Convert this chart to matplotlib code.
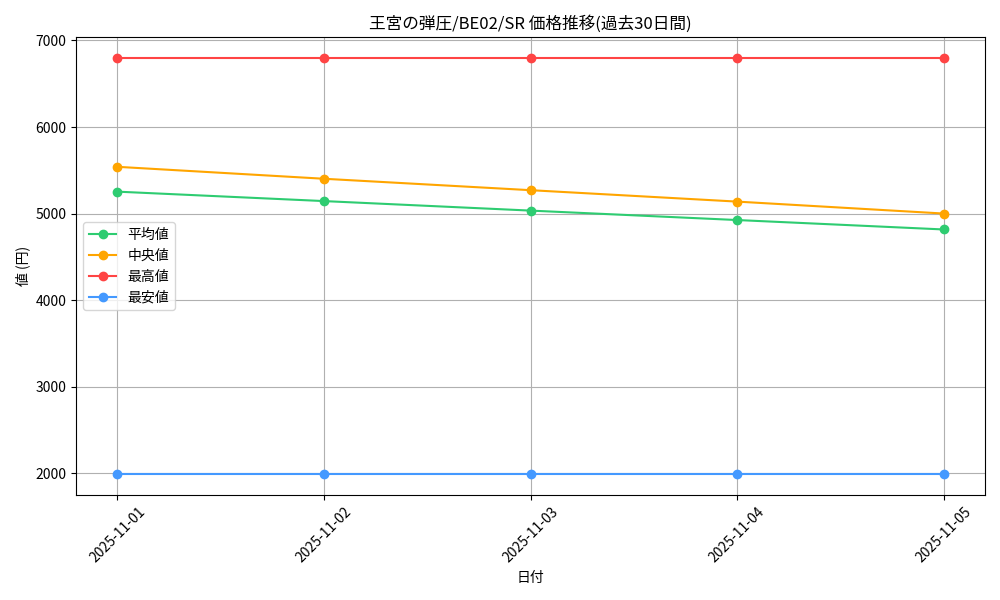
import matplotlib
matplotlib.use('Agg')
import matplotlib.pyplot as plt

plt.rcParams['font.family'] = ['Noto Sans CJK JP', 'DejaVu Sans']

dates = ['2025-11-01', '2025-11-02', '2025-11-03', '2025-11-04', '2025-11-05']
avg_price = [5253, 5144, 5034, 4925, 4816]
median_price = [5540, 5402, 5270, 5138, 5000]
max_price = [6800, 6800, 6800, 6800, 6800]
min_price = [1985, 1985, 1985, 1985, 1985]

fig, ax = plt.subplots(figsize=(10, 6), dpi=100)

ax.plot(dates, avg_price, marker='o', color='#2ecc71', label='平均値')
ax.plot(dates, median_price, marker='o', color='#ffa500', label='中央値')
ax.plot(dates, max_price, marker='o', color='#ff4444', label='最高値')
ax.plot(dates, min_price, marker='o', color='#4499ff', label='最安値')

ax.set_title('王宮の弾圧/BE02/SR 価格推移(過去30日間)')
ax.set_xlabel('日付')
ax.set_ylabel('値 (円)')
ax.grid(True)
ax.legend(loc='center left')
plt.xticks(rotation=45)

fig.tight_layout()
fig.savefig('out.png')
